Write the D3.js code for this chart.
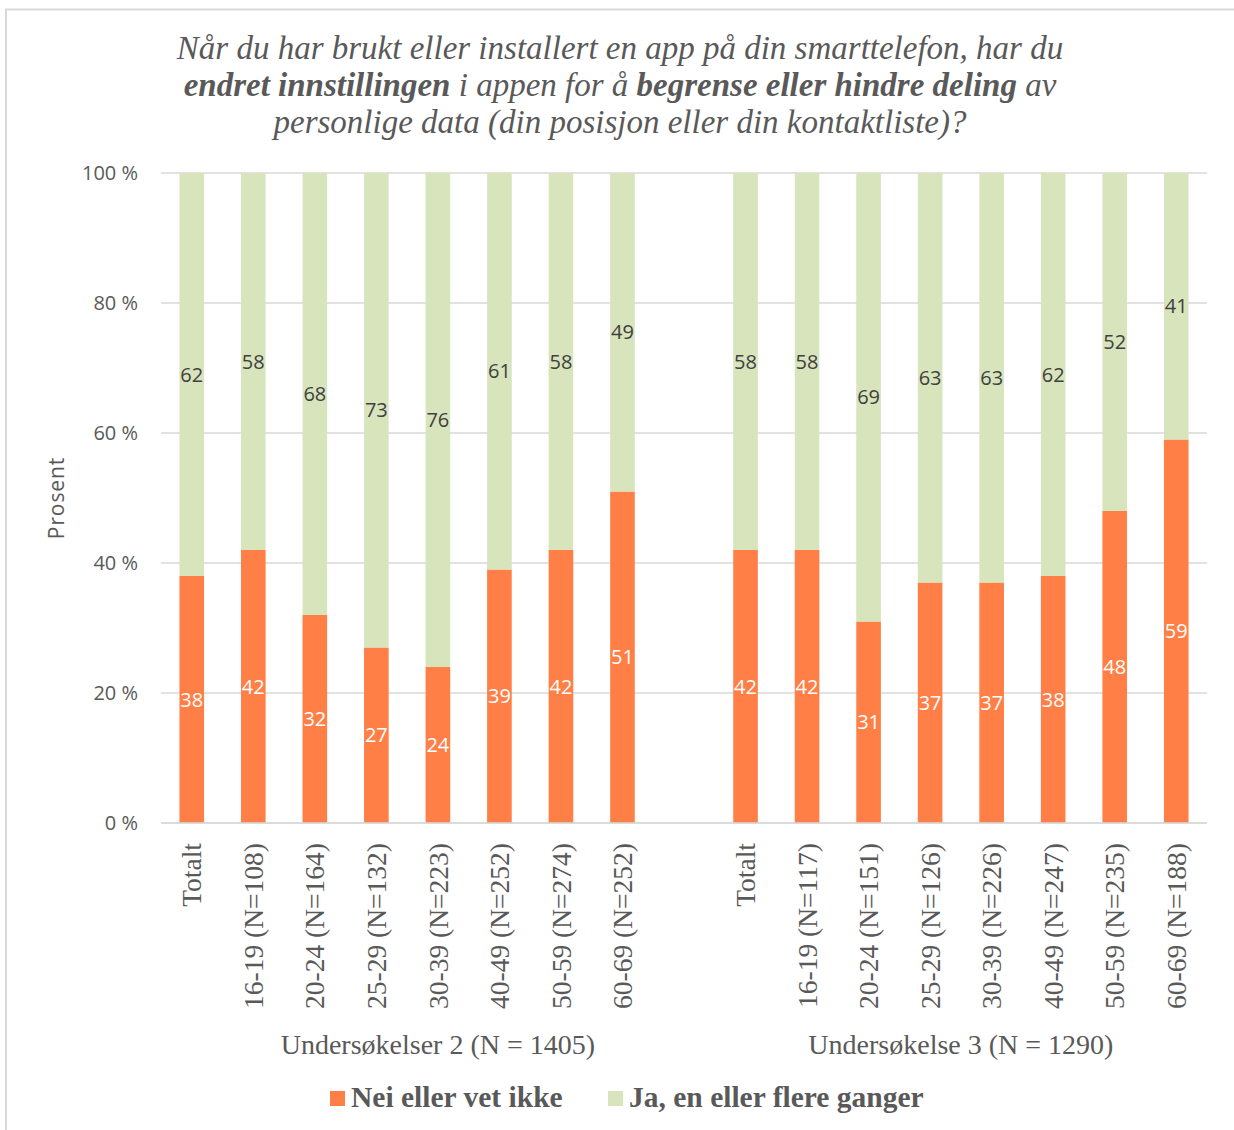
<!DOCTYPE html>
<html>
<head>
<meta charset="utf-8">
<script src="https://cdn.jsdelivr.net/npm/d3@7"></script>
<style>
  body { margin: 0; background: #fff; }
</style>
</head>
<body>
<div id="wrapper"></div>
<script>
// data
const groupNames = ["Undersøkelser 2 (N = 1405)", "Undersøkelse 3 (N = 1290)"]
const cats1 = ["Totalt", "16-19 (N=108)", "20-24 (N=164)", "25-29 (N=132)", "30-39 (N=223)", "40-49 (N=252)", "50-59 (N=274)", "60-69 (N=252)"]
const cats2 = ["Totalt", "16-19 (N=117)", "20-24 (N=151)", "25-29 (N=126)", "30-39 (N=226)", "40-49 (N=247)", "50-59 (N=235)", "60-69 (N=188)"]
const nei1 = [38, 42, 32, 27, 24, 39, 42, 51]
const ja1 = [62, 58, 68, 73, 76, 61, 58, 49]
const nei2 = [42, 42, 31, 37, 37, 38, 48, 59]
const ja2 = [58, 58, 69, 63, 63, 62, 52, 41]
const seriesNames = ["Nei eller vet ikke", "Ja, en eller flere ganger"]
const yTicks = [0, 20, 40, 60, 80, 100]

const colors = { nei: "#FF7F47", ja: "#D8E4BC" }

// rows, with one empty slot after the first group (Excel keeps it in group 1)
const rows = []
cats1.forEach((c, i) => rows.push({ key: "a" + i, label: c, nei: nei1[i], ja: ja1[i], group: 0 }))
cats2.forEach((c, i) => rows.push({ key: "b" + i, label: c, nei: nei2[i], ja: ja2[i], group: 1 }))
const gapKey = "gap"
const slotKeys = rows.slice(0, 8).map(d => d.key).concat([gapKey], rows.slice(8).map(d => d.key))
const groupSlots = [slotKeys.slice(0, 9), slotKeys.slice(9)]

const width = 1234, height = 1130
const plot = { left: 161, right: 1207, top: 173, bottom: 823 }
const serif = "'Liberation Serif', 'Times New Roman', serif"
const sans = "'Open Sans', 'DejaVu Sans', sans-serif"

const svg = d3.select("#wrapper").append("svg")
  .attr("width", width)
  .attr("height", height)

// frame (top and left edge visible)
svg.append("path")
  .attr("d", "M6,1130V9.5H1234")
  .attr("fill", "none")
  .attr("stroke", "#d9d9d9")
  .attr("stroke-width", 2)

const x = d3.scaleBand()
  .domain(slotKeys)
  .range([plot.left, plot.right])
  .paddingInner(0.6)
  .paddingOuter(0.3)

const y = d3.scaleLinear()
  .domain([0, 100])
  .range([plot.bottom, plot.top])

// title
const titleLines = [
  [["Når du har brukt eller installert en app på din smarttelefon, har du", false]],
  [["endret innstillingen", true], [" i appen for å ", false], ["begrense eller hindre deling", true], [" av", false]],
  [["personlige data (din posisjon eller din kontaktliste)?", false]]
]
titleLines.forEach((line, i) => {
  const t = svg.append("text")
    .attr("x", 620)
    .attr("y", 59 + i * 37)
    .attr("text-anchor", "middle")
    .style("font-family", serif)
    .style("font-style", "italic")
    .style("font-size", "33px")
    .attr("fill", "#595959")
  line.forEach(([s, b]) => {
    t.append("tspan").text(s).style("font-weight", b ? "bold" : "normal")
  })
})

// gridlines
svg.append("g")
  .selectAll("line")
  .data(yTicks)
  .join("line")
    .attr("x1", plot.left)
    .attr("x2", plot.right)
    .attr("y1", d => y(d))
    .attr("y2", d => y(d))
    .attr("stroke", "#d9d9d9")
    .attr("stroke-width", 1.5)

// y axis labels
const yAxis = svg.append("g")
  .attr("transform", `translate(${plot.left - 20},0)`)
  .call(d3.axisLeft(y).tickValues(yTicks).tickFormat(d => d + " %").tickSize(0))
yAxis.select(".domain").remove()
yAxis.selectAll("text")
  .style("font-family", sans)
  .style("font-size", "20px")
  .attr("fill", "#595959")

svg.append("text")
  .attr("transform", `translate(57,${(plot.top + plot.bottom) / 2}) rotate(-90)`)
  .attr("dy", "0.35em")
  .attr("text-anchor", "middle")
  .style("font-family", sans)
  .style("font-size", "21px")
  .style("letter-spacing", "0.9px")
  .attr("fill", "#595959")
  .text("Prosent")

// bars
const bars = svg.append("g")
bars.selectAll("rect.nei")
  .data(rows)
  .join("rect")
    .attr("class", "nei")
    .attr("x", d => x(d.key))
    .attr("width", x.bandwidth())
    .attr("y", d => y(d.nei))
    .attr("height", d => y(0) - y(d.nei))
    .attr("fill", colors.nei)
bars.selectAll("rect.ja")
  .data(rows)
  .join("rect")
    .attr("class", "ja")
    .attr("x", d => x(d.key))
    .attr("width", x.bandwidth())
    .attr("y", d => y(d.nei + d.ja))
    .attr("height", d => y(d.nei) - y(d.nei + d.ja))
    .attr("fill", colors.ja)

// value labels
bars.selectAll("text.neiLab")
  .data(rows)
  .join("text")
    .attr("class", "neiLab")
    .attr("x", d => x(d.key) + x.bandwidth() / 2)
    .attr("y", d => y(d.nei / 2))
    .attr("dy", "0.36em")
    .attr("text-anchor", "middle")
    .style("font-family", sans)
    .style("font-size", "20px")
    .attr("fill", "#fff")
    .text(d => d.nei)
bars.selectAll("text.jaLab")
  .data(rows)
  .join("text")
    .attr("class", "jaLab")
    .attr("x", d => x(d.key) + x.bandwidth() / 2)
    .attr("y", d => y(d.nei + d.ja / 2))
    .attr("dy", "0.36em")
    .attr("text-anchor", "middle")
    .style("font-family", sans)
    .style("font-size", "20px")
    .attr("fill", "#404040")
    .text(d => d.ja)

// x axis line
svg.append("line")
  .attr("x1", plot.left).attr("x2", plot.right)
  .attr("y1", plot.bottom).attr("y2", plot.bottom)
  .attr("stroke", "#d9d9d9")
  .attr("stroke-width", 1.5)

// category labels
svg.append("g")
  .selectAll("text")
  .data(rows)
  .join("text")
    .attr("transform", d => `translate(${x(d.key) + x.bandwidth() / 2},${plot.bottom + 20}) rotate(-90)`)
    .attr("dy", "0.35em")
    .attr("text-anchor", "end")
    .style("font-family", serif)
    .style("font-size", "27.5px")
    .attr("fill", "#595959")
    .text(d => d.label)

// group labels, centred over each group's slots
groupNames.forEach((g, i) => {
  const keys = groupSlots[i]
  const cx = (x(keys[0]) + x(keys[keys.length - 1]) + x.bandwidth()) / 2
  svg.append("text")
    .attr("x", cx)
    .attr("y", 1054)
    .attr("text-anchor", "middle")
    .style("font-family", serif)
    .style("font-size", "28px")
    .attr("fill", "#595959")
    .text(g)
})

// legend
const legend = svg.append("g")
const legendX = [330, 608]
seriesNames.forEach((s, i) => {
  legend.append("rect")
    .attr("x", legendX[i]).attr("y", 1091)
    .attr("width", 15).attr("height", 15)
    .attr("fill", i === 0 ? colors.nei : colors.ja)
  legend.append("text")
    .attr("x", legendX[i] + 21)
    .attr("y", 1107)
    .style("font-family", serif)
    .style("font-weight", "bold")
    .style("font-size", "29.5px")
    .attr("fill", "#595959")
    .text(s)
})
</script>
</body>
</html>
